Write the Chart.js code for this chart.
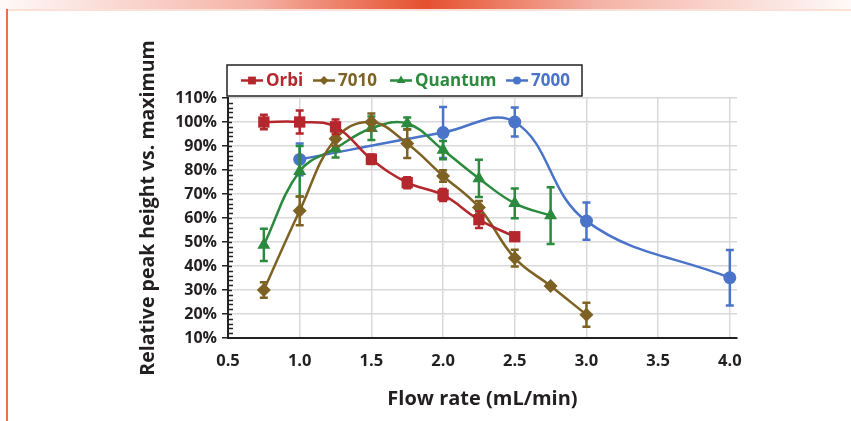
<!DOCTYPE html>
<html>
<head>
<meta charset="utf-8">
<script src="https://cdn.jsdelivr.net/npm/chart.js@4.4.1/dist/chart.umd.min.js"></script>
<style>
  html, body { margin: 0; padding: 0; background: #fff; }
  #wrap { position: relative; width: 851px; height: 421px; overflow: hidden; }
  .topbar { position: absolute; left: 0; top: 0; width: 851px; height: 9px;
    background: linear-gradient(to right, rgba(232,84,56,0.03), rgba(232,84,56,0.45) 30%, #e5502e 50%, rgba(232,84,56,0.45) 70%, rgba(232,84,56,0.03)); }
  .topline { position: absolute; left: 6px; top: 9px; right: 0; height: 2px; background: #fbe0d8; }
  .sideline { position: absolute; left: 6px; top: 9px; width: 2px; bottom: 0; background: #e8704f; }
  canvas { position: absolute; left: 0; top: 0; }
</style>
</head>
<body>
<div id="wrap">
  <div class="topbar"></div>
  <div class="topline"></div>
  <div class="sideline"></div>
  <canvas id="myChart" width="851" height="421"></canvas>
</div>
<script>
// flow rates (mL/min) and relative peak heights (%) with error bars
const flowOrbi = [0.75, 1.0, 1.25, 1.5, 1.75, 2.0, 2.25, 2.5]
const orbi = [100, 100, 98, 84.5, 74.7, 69.6, 59.3, 52.2]
const orbiErr = [3, 4.8, 3, 2, 2.3, 2.5, 3.5, 0]

const flow7010 = [0.75, 1.0, 1.25, 1.5, 1.75, 2.0, 2.25, 2.5, 2.75, 3.0]
const s7010 = [30, 63, 93, 100, 91, 77.5, 64.4, 43.3, 31.7, 19.7]
const s7010Err = [3.2, 6, 3, 3.5, 6, 2.4, 2.7, 3.5, 0, 5]

const flowQuantum = [0.75, 1.0, 1.25, 1.5, 1.75, 2.0, 2.25, 2.5, 2.75]
const quantum = [48.8, 79.5, 89, 97.4, 99.4, 88.3, 76.5, 66.1, 61]
const quantumErr = [6.7, 10.5, 3.8, 4.9, 2.5, 3.8, 7.8, 6.2, 11.8]

const flow7000 = [1.0, 2.0, 2.5, 3.0, 4.0]
const s7000 = [84.4, 95.6, 100, 58.7, 35.1]
const s7000Err = [6.6, 10.6, 6, 7.8, 11.6]

const xTicks = [0.5, 1.0, 1.5, 2.0, 2.5, 3.0, 3.5, 4.0]
const yTicks = [10, 20, 30, 40, 50, 60, 70, 80, 90, 100, 110]

const names = ['Orbi', '7010', 'Quantum', '7000']
const colors = ['#b3272d', '#7e6224', '#2b8a3e', '#4a74c9']
const styles = ['rect', 'rectRot', 'triangle', 'circle']
const radii = [8, 7, 7.5, 6.5]
const errors = [orbiErr, s7010Err, quantumErr, s7000Err]

const FONT = '"Open Sans", "DejaVu Sans", sans-serif'
const INK = '#231f20'

function pts(xs, ys) {
	return xs.map((x, i) => ({ x: x, y: ys[i] }))
}

const series = [pts(flowOrbi, orbi), pts(flow7010, s7010), pts(flowQuantum, quantum), pts(flow7000, s7000)]

const errorBars = {
	id: 'errorBars',
	beforeDatasetDraw(chart, args) {
		const ctx = chart.ctx
		const i = args.index
		const meta = chart.getDatasetMeta(i)
		const ys = chart.scales.y
		const ds = chart.data.datasets[i]
		ctx.save()
		ctx.strokeStyle = colors[i]
		ctx.lineWidth = 2.5
		meta.data.forEach((p, j) => {
			const e = errors[i][j]
			if (!e) return
			const v = ds.data[j].y
			const y1 = ys.getPixelForValue(v + e)
			const y2 = ys.getPixelForValue(v - e)
			ctx.beginPath()
			ctx.moveTo(p.x, y1); ctx.lineTo(p.x, y2)
			ctx.moveTo(p.x - 4, y1); ctx.lineTo(p.x + 4, y1)
			ctx.moveTo(p.x - 4, y2); ctx.lineTo(p.x + 4, y2)
			ctx.stroke()
		})
		ctx.restore()
	}
}

// legend box, axis titles and minor ticks
const extras = {
	id: 'extras',
	afterDraw(chart) {
		const ctx = chart.ctx
		const a = chart.chartArea
		const y = chart.scales.y
		ctx.save()
		ctx.strokeStyle = '#222'
		ctx.lineWidth = 1.5
		for (let v = 12; v < 110; v += 2) {
			const py = Math.round(y.getPixelForValue(v)) + 0.5
			const len = v % 10 === 0 ? 4 : 5
			ctx.beginPath()
			ctx.moveTo(a.left, py)
			ctx.lineTo(a.left + len, py)
			ctx.stroke()
		}

		ctx.fillStyle = INK
		ctx.font = 'bold 20px ' + FONT
		ctx.textAlign = 'center'
		ctx.textBaseline = 'middle'
		ctx.fillText('Flow rate (mL/min)', (a.left + a.right) / 2, 399)
		ctx.save()
		ctx.translate(148, 208)
		ctx.rotate(-Math.PI / 2)
		ctx.font = 'bold 19.5px ' + FONT
		ctx.fillText('Relative peak height vs. maximum', 0, 0)
		ctx.restore()

		// legend
		ctx.fillStyle = '#fff'
		ctx.fillRect(227, 65, 355, 31)
		ctx.strokeStyle = '#222'
		ctx.lineWidth = 1.5
		ctx.strokeRect(227, 65, 355, 31)
		const starts = [241, 313, 390, 506]
		const cy = 80.5
		ctx.font = 'bold 17px ' + FONT
		ctx.textAlign = 'left'
		names.forEach((n, i) => {
			const x0 = starts[i]
			ctx.strokeStyle = colors[i]
			ctx.lineWidth = 2.5
			ctx.beginPath()
			ctx.moveTo(x0, cy)
			ctx.lineTo(x0 + 22, cy)
			ctx.stroke()
			ctx.fillStyle = colors[i]
			Chart.helpers.drawPoint(ctx, { pointStyle: styles[i], radius: radii[i] - 2.5, borderWidth: 0 }, x0 + 11, cy)
			ctx.fillText(n, x0 + 25, cy + 1)
		})
		ctx.restore()
	}
}

const ctx = document.getElementById('myChart')
const myChart = new Chart(ctx, {
	type: 'line',
	data: {
		datasets: series.map((d, i) => ({
			label: names[i],
			data: d,
			borderColor: colors[i],
			backgroundColor: colors[i],
			borderWidth: 2.5,
			tension: 0.4,
			pointStyle: styles[i],
			pointRadius: radii[i],
			pointBorderWidth: 0,
			pointBackgroundColor: colors[i],
			fill: false,
		})),
	},
	options: {
		responsive: false,
		animation: false,
		devicePixelRatio: 1,
		events: [],
		layout: { padding: { top: 98, right: 114, bottom: 0, left: 142 } },
		plugins: {
			legend: { display: false },
			tooltip: { enabled: false },
		},
		scales: {
			x: {
				type: 'linear',
				min: 0.5,
				max: 4.05,
				afterBuildTicks(s) { s.ticks = xTicks.map(v => ({ value: v })) },
				afterFit(s) { s.height = 83 },
				ticks: {
					autoSkip: false,
					maxRotation: 0,
					padding: 13,
					color: INK,
					font: { family: FONT, size: 16.5, weight: 'bold' },
					callback: v => Number(v).toFixed(1),
				},
				grid: { color: '#d9d9d9', lineWidth: 1.5, drawTicks: false },
				border: { color: '#222', width: 2 },
			},
			y: {
				min: 10,
				max: 110,
				afterBuildTicks(s) { s.ticks = yTicks.map(v => ({ value: v })) },
				afterFit(s) { s.width = 86 },
				ticks: {
					padding: 5,
					color: INK,
					font: { family: FONT, size: 16, weight: 'bold' },
					callback: v => v + '%',
				},
				grid: { color: '#d9d9d9', lineWidth: 1.5, tickLength: 6, tickColor: '#222' },
				border: { color: '#222', width: 2 },
			},
		},
	},
	plugins: [errorBars, extras],
})
</script>
</body>
</html>
